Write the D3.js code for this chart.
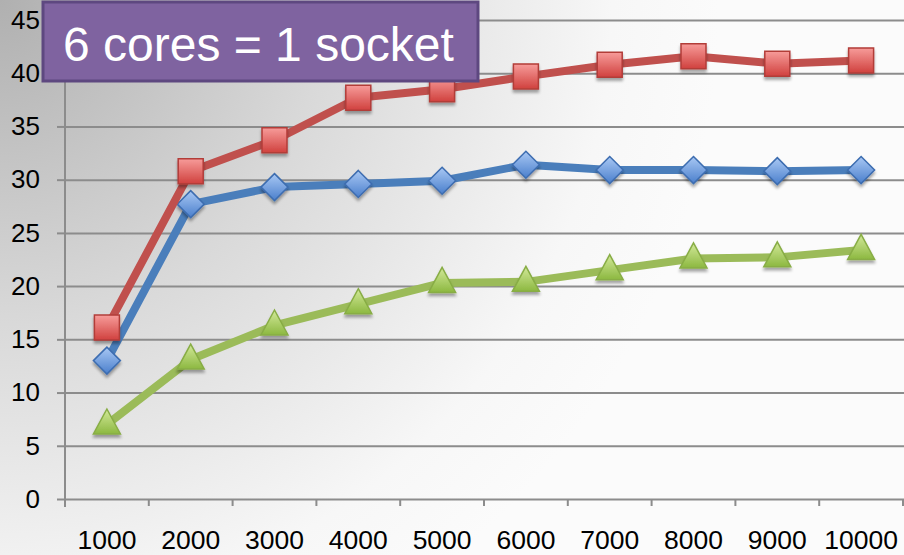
<!DOCTYPE html>
<html>
<head>
<meta charset="utf-8">
<script src="https://cdn.jsdelivr.net/npm/d3@7"></script>
<style>
  html, body { margin: 0; padding: 0; background: #fff; }
  svg { display: block; font-family: "Liberation Sans", Arial, sans-serif; }
</style>
</head>
<body>
<svg id="chart" width="904" height="555"></svg>
<script>
// Problem sizes along the x axis
const categories = ["1000", "2000", "3000", "4000", "5000", "6000", "7000", "8000", "9000", "10000"];

// Measured throughput for each configuration
const blueValues  = [13.0, 27.7, 29.3, 29.6, 29.9, 31.4, 30.9, 30.9, 30.8, 30.9];
const redValues   = [16.1, 30.8, 33.7, 37.7, 38.5, 39.7, 40.8, 41.6, 40.9, 41.2];
const greenValues = [7.0, 13.1, 16.3, 18.3, 20.3, 20.4, 21.5, 22.6, 22.7, 23.4];

const yTicks = [0, 5, 10, 15, 20, 25, 30, 35, 40, 45];
const title = "6 cores = 1 socket";

const W = 904, H = 555;
const plot = { left: 65, right: 903, top: 20, bottom: 499 };
const FONT = "Liberation Sans, Arial, sans-serif";

const svg = d3.select("#chart");
const defs = svg.append("defs");

// Soft grey wash from the top-left corner
const bg = defs.append("radialGradient").attr("id", "bg")
  .attr("gradientUnits", "userSpaceOnUse")
  .attr("cx", 0).attr("cy", 0).attr("r", 720);
bg.append("stop").attr("offset", 0).attr("stop-color", "#b0b0b0");
bg.append("stop").attr("offset", 0.45).attr("stop-color", "#d9d9d9");
bg.append("stop").attr("offset", 0.85).attr("stop-color", "#f7f7f7");
bg.append("stop").attr("offset", 1).attr("stop-color", "#fbfbfb");
svg.append("rect").attr("width", W).attr("height", H).attr("fill", "url(#bg)");

// Marker fills
function vGrad(id, top, bottom) {
  const g = defs.append("linearGradient").attr("id", id)
    .attr("x1", 0).attr("y1", 0).attr("x2", 0).attr("y2", 1);
  g.append("stop").attr("offset", 0).attr("stop-color", top);
  g.append("stop").attr("offset", 1).attr("stop-color", bottom);
}
vGrad("gRed", "#f79c9a", "#d0413e");
vGrad("gBlue", "#a9c8f4", "#4a7fcc");
vGrad("gGreen", "#d3e99a", "#8cb840");

const shadow = defs.append("filter").attr("id", "shadow")
  .attr("x", "-50%").attr("y", "-50%").attr("width", "200%").attr("height", "200%");
shadow.append("feGaussianBlur").attr("in", "SourceAlpha").attr("stdDeviation", 1.8).attr("result", "b");
shadow.append("feOffset").attr("in", "b").attr("dx", 0).attr("dy", 3).attr("result", "o");
shadow.append("feComponentTransfer").attr("in", "o").attr("result", "s")
  .append("feFuncA").attr("type", "linear").attr("slope", 0.35);
const merge = shadow.append("feMerge");
merge.append("feMergeNode").attr("in", "s");
merge.append("feMergeNode").attr("in", "SourceGraphic");

// Scales
const x = d3.scaleBand().domain(categories).range([plot.left, plot.right]).padding(0);
const y = d3.scaleLinear().domain([0, 45]).range([plot.bottom, plot.top]);
const cx = d => x(d) + x.bandwidth() / 2;

// Horizontal gridlines
svg.append("g")
  .attr("transform", `translate(${plot.left},0)`)
  .call(d3.axisLeft(y).tickValues(yTicks).tickSize(-(W - plot.left)).tickFormat(""))
  .call(g => g.select(".domain").remove())
  .call(g => g.selectAll(".tick line").attr("stroke", "#8c8c8c").attr("stroke-width", 2));

// Y axis with labels
svg.append("g")
  .attr("transform", `translate(${plot.left},0)`)
  .call(d3.axisLeft(y).tickValues(yTicks).tickSize(8).tickPadding(17).tickSizeOuter(0))
  .call(g => g.select(".domain").attr("stroke", "#8c8c8c").attr("stroke-width", 2)
      .attr("d", `M0,${plot.bottom + 8}V${plot.top}`))
  .call(g => g.selectAll(".tick line").attr("stroke", "#8c8c8c").attr("stroke-width", 2))
  .call(g => g.selectAll("text").attr("font-size", 26).attr("fill", "#000").attr("font-family", FONT));

// X axis labels (centred in each band) and boundary tick marks
svg.append("g")
  .attr("transform", `translate(0,${plot.bottom})`)
  .call(d3.axisBottom(x).tickSize(0).tickPadding(31))
  .call(g => g.select(".domain").remove())
  .call(g => g.selectAll("text").attr("font-size", 26.5).attr("fill", "#000").attr("font-family", FONT));

const bounds = categories.map(c => x(c)).concat([plot.right]);
svg.append("g").selectAll("line").data(bounds).join("line")
  .attr("x1", d => d).attr("x2", d => d)
  .attr("y1", plot.bottom).attr("y2", plot.bottom + 7)
  .attr("stroke", "#8c8c8c").attr("stroke-width", 2);

// Series
const series = [
  { values: blueValues,  color: "#4a7ebb", fill: "url(#gBlue)",  stroke: "#3d6db0", shape: "diamond" },
  { values: redValues,   color: "#c0504d", fill: "url(#gRed)",   stroke: "#b23c39", shape: "square" },
  { values: greenValues, color: "#9bbb59", fill: "url(#gGreen)", stroke: "#88ad45", shape: "triangle" }
];

const line = d3.line().x((d, i) => cx(categories[i])).y(d => y(d));

function markerPath(shape) {
  if (shape === "square") return "M-12.5,-12.5H12.5V12.5H-12.5Z";
  if (shape === "diamond") return "M0,-13.5L13.5,0L0,13.5L-13.5,0Z";
  return "M0,-15.5L13.5,9.5H-13.5Z";
}

series.forEach(s => {
  const g = svg.append("g");
  g.append("path").datum(s.values)
    .attr("d", line)
    .attr("fill", "none")
    .attr("stroke", s.color)
    .attr("stroke-width", 8)
    .attr("stroke-linejoin", "round");
  g.selectAll("path.marker").data(s.values).join("path")
    .attr("class", "marker")
    .attr("transform", (d, i) => `translate(${cx(categories[i])},${y(d)})`)
    .attr("d", markerPath(s.shape))
    .attr("fill", s.fill)
    .attr("stroke", s.stroke)
    .attr("stroke-width", 1.5)
    .attr("filter", "url(#shadow)");
});

// Annotation box
const box = svg.append("g");
box.append("rect")
  .attr("x", 43).attr("y", 2).attr("width", 435).attr("height", 79)
  .attr("fill", "#7f63a0").attr("stroke", "#5e4880").attr("stroke-width", 3);
box.append("text")
  .attr("x", 63).attr("y", 61)
  .attr("font-size", 48).attr("fill", "#fff").attr("font-family", FONT)
  .text(title);
</script>
</body>
</html>
